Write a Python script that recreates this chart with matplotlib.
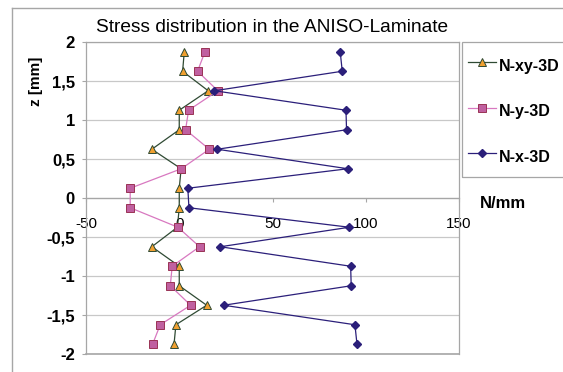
import matplotlib.pyplot as plt
from matplotlib.lines import Line2D
from matplotlib.patches import Rectangle
from matplotlib.ticker import FixedLocator

plt.rcParams['font.family'] = ['Liberation Sans', 'DejaVu Sans']
plt.rcParams['axes.unicode_minus'] = False

# Schichtmitten über die Dicke des Laminats [mm]
z = [1.875, 1.625, 1.375, 1.125, 0.875, 0.625, 0.375, 0.125,
     -0.125, -0.375, -0.625, -0.875, -1.125, -1.375, -1.625, -1.875]

# Schnittkräfte [N/mm]
n_xy = [2.7, 1.8, 15.5, 0.0, 0.0, -14.7, 1.0, 0.0,
        0.0, -1.0, -14.7, 0.0, 0.0, 14.7, -1.8, -2.8]
n_y = [13.8, 9.8, 20.7, 5.0, 3.4, 16.1, 1.1, -26.3,
       -26.3, -0.7, 10.9, -3.8, -4.8, 6.1, -10.2, -14.3]
n_x = [86.3, 87.4, 18.9, 89.4, 89.7, 20.4, 90.4, 4.6,
       5.2, 91.2, 22.0, 91.9, 92.2, 23.8, 94.2, 95.3]

x_ticks = [-50, 0, 50, 100, 150]
y_ticks = [-2, -1.5, -1, -0.5, 0, 0.5, 1, 1.5, 2]
y_labels = ['-2', '-1,5', '-1', '-0,5', '0', '0,5', '1', '1,5', '2']

grey = '#a6a6a6'

fig = plt.figure(figsize=(5.63, 3.72), dpi=100)
ax = fig.add_axes([86 / 563, 18 / 372, 373 / 563, 312 / 372])

ax.plot(n_xy, z, color='#2f4a33', lw=0.9, marker='^', ms=6,
        mfc='#f0a030', mec='#2f4a33', mew=0.7, label='N-xy-3D', zorder=3)
ax.plot(n_y, z, color='#d878c0', lw=0.9, marker='s', ms=6,
        mfc='#c060a0', mec='#993355', mew=0.7, label='N-y-3D', zorder=3)
ax.plot(n_x, z, color='#2b1f7a', lw=0.9, marker='D', ms=4.2,
        mfc='#2b1f7a', mec='#2b1f7a', label='N-x-3D', zorder=3)

ax.set_xlim(-50, 150)
ax.set_ylim(-2, 2)
ax.xaxis.set_major_locator(FixedLocator(x_ticks))
ax.set_yticks(y_ticks)
ax.set_yticklabels(y_labels, fontweight='bold')
ax.tick_params(axis='x', length=3, color=grey, labelsize=11, pad=11)
ax.tick_params(axis='y', length=3, color=grey, labelsize=12, pad=5)

# x-Achse liegt bei z = 0, der Rahmen bleibt außen
ax.spines['bottom'].set_position(('data', 0))
for s in ax.spines.values():
    s.set_color(grey)
    s.set_linewidth(0.9)
ax.axhline(-2, color=grey, lw=1.2, clip_on=False, zorder=2)
ax.grid(axis='y', color='#c8c8c8', lw=0.9)
ax.set_axisbelow(True)

ax.set_title('Stress distribution in the ANISO-Laminate', fontsize=13.8, pad=7)
ax.set_ylabel('z [mm]', fontsize=11, fontweight='bold')
ax.yaxis.set_label_coords(-0.115, 0.875)
fig.text(480 / 563, 1 - 204 / 372, 'N/mm', fontsize=12, fontweight='bold',
         va='center', ha='left')

# Legende rechts, der Rahmen läuft bis über den Bildrand
fig.legend(loc='upper left', bbox_to_anchor=(462 / 563, 1 - 47 / 372),
           borderaxespad=0, borderpad=0.4, handlelength=1.7,
           handleheight=2.0, labelspacing=1.3, handletextpad=0.2,
           frameon=False, prop={'size': 11.5, 'weight': 'bold'})
fig.add_artist(Rectangle((462 / 563, 1 - 177 / 372), 0.3, 135 / 372,
                         transform=fig.transFigure, fill=False,
                         edgecolor=grey, lw=0.9))

# Rahmen der Grafik (links und oben)
fig.add_artist(Line2D([12 / 563, 12 / 563], [0, 1 - 8 / 372],
                      transform=fig.transFigure, color=grey, lw=1))
fig.add_artist(Line2D([12 / 563, 1], [1 - 8 / 372, 1 - 8 / 372],
                      transform=fig.transFigure, color=grey, lw=1))

plt.savefig('out.png', dpi=100)
plt.close()
